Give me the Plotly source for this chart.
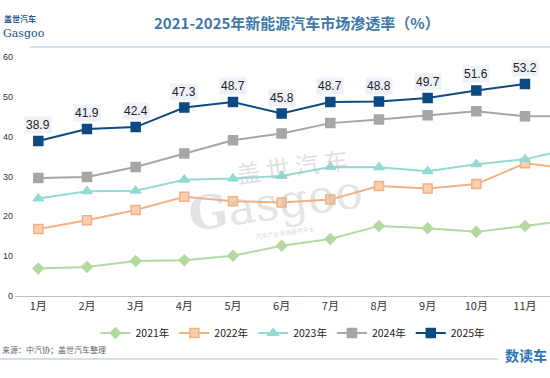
import plotly.graph_objects as go

months = ["1月", "2月", "3月", "4月", "5月", "6月", "7月", "8月", "9月", "10月", "11月", "12月"]
years = ["2021年", "2022年", "2023年", "2024年", "2025年"]
v2021 = [6.9, 7.3, 8.8, 9.0, 10.1, 12.6, 14.3, 17.6, 17.0, 16.1, 17.6, 19.1]
v2022 = [16.8, 19.0, 21.6, 24.9, 23.8, 23.5, 24.2, 27.6, 27.0, 28.1, 33.3, 31.9]
v2023 = [24.5, 26.3, 26.4, 29.2, 29.5, 30.1, 32.4, 32.3, 31.3, 33.1, 34.3, 37.2]
v2024 = [29.6, 29.9, 32.4, 35.8, 39.1, 40.8, 43.4, 44.3, 45.4, 46.4, 45.1, 45.2]
v2025 = [38.9, 41.9, 42.4, 47.3, 48.7, 45.8, 48.7, 48.8, 49.7, 51.6, 53.2]
y_ticks = [0, 10, 20, 30, 40, 50, 60]

FONT = "Liberation Sans, Arial, Noto Sans CJK SC, sans-serif"
CJK = "Noto Sans CJK SC, Liberation Sans, sans-serif"

W, H = 550, 378
L, R, T, B = 15, 0, 57, 82

styles = [
    (v2021, "#B4D9A0", "#B4D9A0", "diamond", 8),
    (v2022, "#F4B183", "#F9CFB0", "square", 9),
    (v2023, "#93DAD1", "#93DAD1", "triangle-up", 9),
    (v2024, "#A6A6A6", "#A6A6A6", "square", 9),
    (v2025, "#0D4A82", "#0D4A82", "square", 9),
]

fig = go.Figure()
for name, (vals, lc, fc, sym, sz) in zip(years, styles):
    fig.add_trace(go.Scatter(
        x=months[:len(vals)], y=vals, name=name, mode="lines+markers",
        line=dict(color=lc, width=2),
        marker=dict(symbol=sym, size=sz, color=fc, line=dict(color=lc, width=1.5)),
        cliponaxis=True,
    ))


def px(xp, yp_top):
    """pixel (from top-left) -> paper coords"""
    return (xp - L) / (W - L - R), (H - B - yp_top) / (H - T - B)


annotations = []
for m, v in zip(months, v2025):
    annotations.append(dict(
        x=m, y=v, xref="x", yref="y", text=f"{v:.1f}", showarrow=False,
        yshift=16, bgcolor="#EEF2F8", borderpad=1,
        font=dict(family=FONT, size=12, color="#222222"),
    ))


def txt(xp, yp, text, font, xanchor="center", angle=0):
    x, y = px(xp, yp)
    return dict(x=x, y=y, xref="paper", yref="paper", xanchor=xanchor, yanchor="middle",
                text=text, showarrow=False, textangle=angle, font=font)


annotations += [
    txt(297, 22, "<b>2021-2025年新能源汽车市场渗透率（%）</b>",
        dict(family=CJK, size=15, color="#3D78A8")),
    txt(2, 19, "<b>盖世汽车</b>", dict(family=CJK, size=8, color="#1F5C99"), "left"),
    txt(1, 34, "Gasgoo", dict(family="DejaVu Serif, serif", size=11, color="#1F4E86"), "left"),
    txt(292, 165, "盖 世 汽 车", dict(family=CJK, size=24, color="rgba(185,185,185,0.45)"), angle=-8),
    txt(275, 203, "<b>G</b>asgoo", dict(family="DejaVu Serif, serif", size=46,
                                        color="rgba(185,185,185,0.4)"), angle=-8),
    txt(285, 232, "汽车产业信息服务平台", dict(family=CJK, size=6, color="rgba(185,185,185,0.55)"), angle=-8),
    txt(0, 349, "来源：中汽协；盖世汽车整理", dict(family=CJK, size=8, color="#666666"), "left"),
    txt(549, 355, "<b>数读车</b>", dict(family=CJK, size=14, color="#2E73B5"), "right"),
]

fig.update_layout(
    width=W, height=H,
    margin=dict(l=L, r=R, t=T, b=B, pad=0),
    paper_bgcolor="white", plot_bgcolor="white",
    showlegend=True,
    legend=dict(orientation="h", x=px(293, 0)[0], xanchor="center", y=px(0, 333)[1], yanchor="middle",
                font=dict(family=CJK, size=10.5, color="#222222"), itemwidth=30,
                bgcolor="rgba(0,0,0,0)"),
    xaxis=dict(type="category", categoryarray=months, categoryorder="array",
               range=[-0.479, 10.514], showgrid=False, showline=True, linecolor="#BFBFBF",
               linewidth=1, ticks="", tickfont=dict(family=CJK, size=11, color="#333333"),
               automargin=False, fixedrange=True),
    yaxis=dict(range=[0, 60], tickvals=y_ticks, showgrid=False, zeroline=False, showline=False,
               ticks="", tickfont=dict(family=FONT, size=9, color="#333333"),
               ticklabelstandoff=1, automargin=False, fixedrange=True),
    annotations=annotations,
)

y1 = px(0, 47)[1]
fig.add_shape(type="line", xref="paper", yref="paper",
              x0=px(30, 0)[0], x1=px(550, 0)[0], y0=y1, y1=y1,
              line=dict(color="#A9BFD3", width=1))
y2 = px(0, 359)[1]
fig.add_shape(type="line", xref="paper", yref="paper",
              x0=px(0, 0)[0], x1=px(498, 0)[0], y0=y2, y1=y2,
              line=dict(color="#A9BFD3", width=1))

fig.write_html("out.html", config={"displayModeBar": False},
               post_script="document.body.style.margin='0px';")
